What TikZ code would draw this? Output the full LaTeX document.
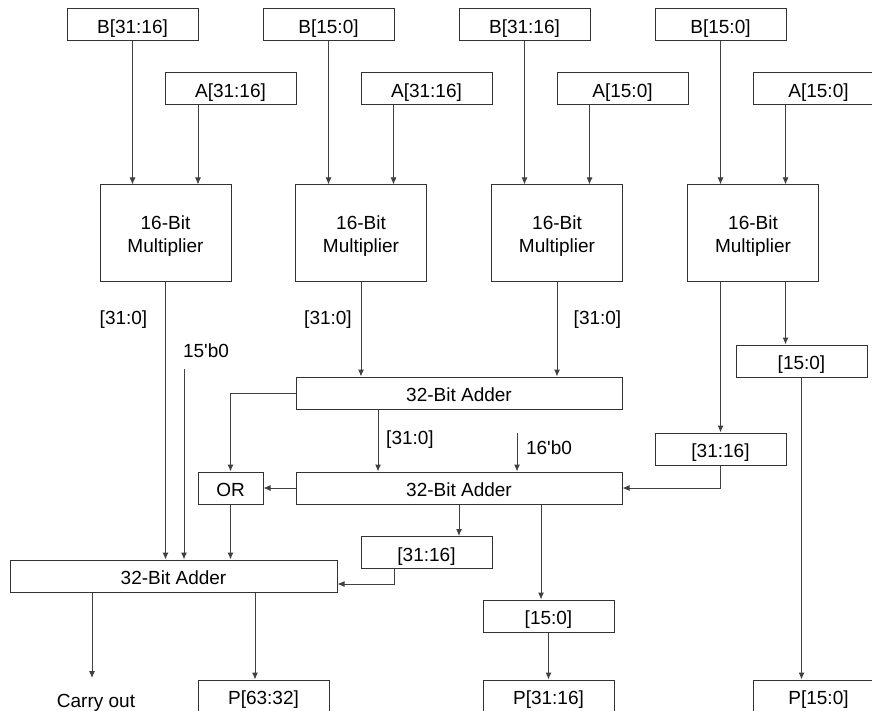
\documentclass[tikz,border=0pt]{standalone}
\usepackage{fontspec}
\setmainfont{Liberation Sans}
\usetikzlibrary{arrows.meta}
\usetikzlibrary{calc}

\begin{document}
\begin{tikzpicture}[x=1pt,y=-1pt,
  font=\fontsize{19}{23}\selectfont,
  blk/.style={draw=black!80,line width=1pt,inner sep=0pt,minimum width=131pt,minimum height=32pt,text height=17pt,text depth=0pt},
  mul/.style={blk,minimum height=96pt,align=center,text height=42pt,text depth=4pt},
  wide/.style={blk,minimum width=326pt},
  arr/.style={draw=black!75,line width=1pt,-{Latex[length=7pt,width=6pt]}}]
\useasboundingbox (0,0) rectangle (872,711);

% operand boxes
\node[blk] (b1) at (132.5,25) {B[31:16]};
\node[blk] (b2) at (328.5,25) {B[15:0]};
\node[blk] (b3) at (524.5,25) {B[31:16]};
\node[blk] (b4) at (720.5,25) {B[15:0]};
\node[blk] (a1) at (230.5,89) {A[31:16]};
\node[blk] (a2) at (426.5,89) {A[31:16]};
\node[blk] (a3) at (622.5,89) {A[15:0]};
\node[blk] (a4) at (818.5,89) {A[15:0]};

% multipliers
\foreach \i/\x in {1/165.5,2/361,3/557,4/753}
  \node[mul] (m\i) at (\x,233) {16-Bit\\Multiplier};

% adders and slices
\node[wide] (add1) at (459,393) {32-Bit Adder};
\node[wide] (add2) at (459,488) {32-Bit Adder};
\node[wide,minimum width=327pt] (add3) at (173.5,576) {32-Bit Adder};
\node[blk,minimum width=65pt] (or) at (230.5,488) {OR};
\node[blk] (r150) at (801.5,361) {[15:0]};
\node[blk] (r3116) at (720.5,449) {[31:16]};
\node[blk] (s3116) at (426.5,552.5) {[31:16]};
\node[blk] (s150) at (548.5,616) {[15:0]};
\node[blk] (p6332) at (263.5,696) {P[63:32]};
\node[blk] (p3116) at (548.5,696) {P[31:16]};
\node[blk] (p150) at (818.5,696) {P[15:0]};

% labels
\node (l1) at (123.5,320) {[31:0]};
\node (l2) at (328,320) {[31:0]};
\node (l3) at (597.5,320) {[31:0]};
\node (l4) at (410,440) {[31:0]};
\node (z15) at (206,351) {15\textquotesingle b0};
\node (z16) at (549,448) {16\textquotesingle b0};
\node (cout) at (96,703) {Carry out};
\coordinate (z15in) at (184,369);
\coordinate (z16in) at (517,433);
\coordinate (cotip) at (92,678);

% multiplier inputs
\foreach \i in {1,...,4}{
  \draw[arr] (b\i.south) -- (b\i.south |- m\i.north);
  \draw[arr] ([xshift=32.5]m\i.north |- a\i.south) -- ([xshift=32.5]m\i.north);
}

% partial products
\draw[arr] (m1.south) -- (m1.south |- add3.north);
\draw[arr] (m2.south) -- (m2.south |- add1.north);
\draw[arr] (m3.south) -- (m3.south |- add1.north);
\draw[arr] ([xshift=-32.5]m4.south) -- ([xshift=-32.5]m4.south |- r3116.north);
\draw[arr] ([xshift=32.5]m4.south) -- ([xshift=32.5]m4.south |- r150.north);
\draw[arr] (r150.south) -- (r150.south |- p150.north);

% middle adders
\draw[arr] (add1.west) -| (or.north);
\draw[arr] ([xshift=-81]add1.south) -- ([xshift=-81]add2.north);
\draw[arr] (z16in) -- (z16in |- add2.north);
\draw[arr] (r3116.south) |- (add2.east);
\draw[arr] (add2.west) -- (or.east);
\draw[arr] (add2.south) -- (add2.south |- s3116.north);
\draw[arr] ([xshift=82]add2.south) -- ([xshift=82]add2.south |- s150.north);
\draw[arr] (s150.south) -- (p3116.north);

% final adder
\draw[arr] (z15in) -- (z15in |- add3.north);
\draw[arr] (or.south) -- (or.south |- add3.north);
\draw[arr] ([xshift=-32.5]s3116.south) |- ([yshift=-8]add3.east);
\draw[arr] (cotip |- add3.south) -- (cotip);
\draw[arr] ([xshift=81.5]add3.south) -- ([xshift=81.5]add3.south |- p6332.north);

\end{tikzpicture}
\end{document}
